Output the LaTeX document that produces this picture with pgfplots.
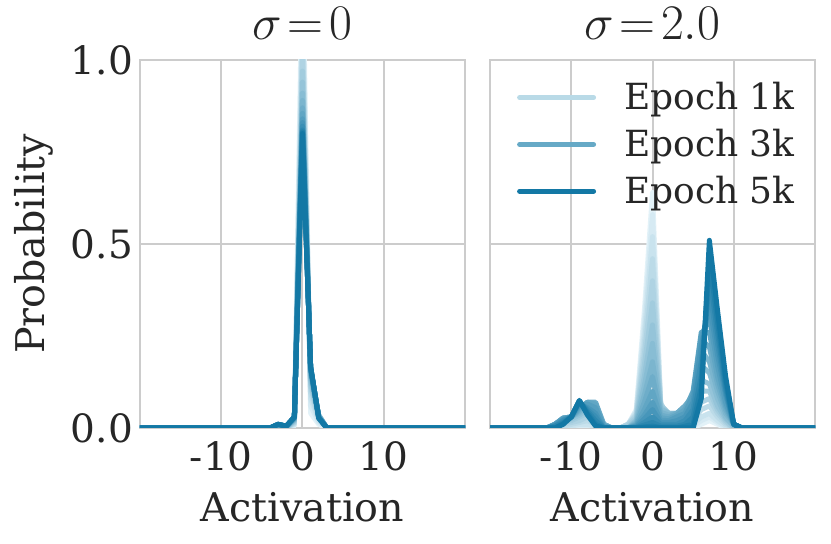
\documentclass[border=0pt]{standalone}
\usepackage{fontspec}
\setmainfont{DejaVu Serif}
\usepackage{pgfplots}
\usepackage{pgfplotstable}
\pgfplotsset{compat=1.18}
\definecolor{pale}{RGB}{227,242,248}
\definecolor{dark}{RGB}{19,120,165}
\definecolor{gridc}{RGB}{204,204,204}
\definecolor{txt}{RGB}{38,38,38}
\colorlet{c0}{pale}
\colorlet{c1}{dark!6.25!pale}
\colorlet{c2}{dark!12.5!pale}
\colorlet{c3}{dark!18.75!pale}
\colorlet{c4}{dark!25!pale}
\colorlet{c5}{dark!31.25!pale}
\colorlet{c6}{dark!37.5!pale}
\colorlet{c7}{dark!43.75!pale}
\colorlet{c8}{dark!50!pale}
\colorlet{c9}{dark!56.25!pale}
\colorlet{c10}{dark!62.5!pale}
\colorlet{c11}{dark!68.75!pale}
\colorlet{c12}{dark!75!pale}
\colorlet{c13}{dark!81.25!pale}
\colorlet{c14}{dark!87.5!pale}
\colorlet{c15}{dark!93.75!pale}
\colorlet{c16}{dark}
\newcommand{\fs}{\fontsize{18}{21.6}\selectfont}
\newcommand{\fk}{\fontsize{19.5}{23}\selectfont}
\newcommand{\fl}{\fontsize{19.8}{23.5}\selectfont}
\newcommand{\ft}{\fontsize{24.88}{28}\selectfont}

% sigma = 0 : columns l0 (earliest) ... l16 (latest)
\pgfplotstableread{
x   l0   l1    l2   l3    l4   l5    l6    l7    l8    l9    l10   l11   l12   l13   l14   l15   l16
-20 0    0     0    0     0    0     0     0     0     0     0     0     0     0     0     0     0
-4  0    0     0    0     0    0     0     0     0     0     0     0     0     0     0     0     0
-3  0    0     0    0.003 0.005 0.006 0.007 0.008 0.008 0.009 0.009 0.01 0.01  0.01  0.01  0.01  0.01
-2  0    0     0    0     0    0.001 0.002 0.002 0.003 0.003 0.004 0.004 0.004 0.005 0.005 0.005 0.005
-1  0.005 0.008 0.01 0.013 0.015 0.018 0.02 0.022 0.024 0.025 0.026 0.027 0.028 0.029 0.03 0.03 0.03
0   1.30 1.20  1.12 1.06  1.01 0.97  0.94  0.91  0.89  0.87  0.855 0.84  0.83  0.82  0.81  0.805 0.80
1   0.04 0.06  0.08 0.095 0.11 0.12  0.13  0.14  0.148 0.154 0.158 0.161 0.163 0.164 0.165 0.166 0.166
2   0.01 0.015 0.02 0.025 0.03 0.033 0.035 0.035 0.033 0.032 0.031 0.03  0.029 0.028 0.028 0.027 0.027
3   0    0     0    0     0    0     0     0     0     0     0     0     0     0     0     0     0
20  0    0     0    0     0    0     0     0     0     0     0     0     0     0     0     0     0
}\tabL

% sigma = 2.0 : columns r0 (earliest) ... r16 (latest)
\pgfplotstableread{
x   r0   r1    r2    r3    r4    r5    r6    r7    r8    r9    r10   r11   r12   r13   r14   r15   r16
-20 0    0     0     0     0     0     0     0     0     0     0     0     0     0     0     0     0
-13 0    0     0     0     0     0     0     0     0     0     0     0     0     0     0     0     0
-12 0    0     0     0     0.005 0.005 0.01  0.01  0.01  0.01  0.01  0.01  0.008 0.005 0.005 0     0
-11 0    0     0     0.005 0.01  0.015 0.02  0.025 0.027 0.027 0.027 0.025 0.022 0.02  0.015 0.012 0.01
-10 0    0     0.005 0.01  0.015 0.02  0.025 0.03  0.03  0.03  0.03  0.03  0.03  0.03  0.03  0.03  0.03
-9  0    0.005 0.01  0.015 0.02  0.03  0.035 0.04  0.045 0.05  0.055 0.06  0.065 0.07  0.072 0.074 0.075
-8  0    0.005 0.01  0.02  0.03  0.04  0.05  0.06  0.065 0.07  0.07  0.065 0.055 0.05  0.045 0.04  0.035
-7  0    0     0.005 0.01  0.02  0.03  0.045 0.055 0.065 0.07  0.065 0.055 0.04  0.03  0.02  0.01  0.005
-6  0    0     0     0     0     0.005 0.005 0.01  0.01  0.01  0.005 0.005 0     0     0     0     0
-5  0    0     0     0     0     0     0     0     0     0     0     0     0     0     0     0     0
-4  0    0     0     0     0     0     0     0     0     0     0     0     0     0     0     0     0
-3  0.01 0.01  0.01  0.01  0.01  0.005 0     0     0     0     0     0     0     0     0     0     0
-2  0.05 0.046 0.042 0.037 0.032 0.027 0.022 0.018 0.014 0.011 0.008 0.006 0.004 0.002 0.001 0     0
-1  0.32 0.29  0.26  0.23  0.20  0.17  0.14  0.115 0.09  0.07  0.05  0.035 0.025 0.015 0.008 0.003 0
0   0.64 0.58  0.52  0.46  0.40  0.34  0.28  0.23  0.18  0.14  0.10  0.07  0.05  0.03  0.015 0.005 0
1   0.07 0.068 0.066 0.067 0.065 0.062 0.056 0.051 0.043 0.035 0.028 0.021 0.015 0.01  0.005 0.001 0
2   0.01 0.015 0.02  0.03  0.035 0.04  0.04  0.04  0.035 0.03  0.025 0.02  0.015 0.01  0.005 0     0
3   0    0.005 0.01  0.02  0.03  0.035 0.04  0.04  0.04  0.04  0.035 0.03  0.02  0.01  0.005 0     0
4   0    0.005 0.01  0.02  0.03  0.04  0.05  0.05  0.06  0.06  0.05  0.04  0.03  0.02  0.01  0.005 0
5   0    0.005 0.01  0.02  0.03  0.04  0.05  0.07  0.08  0.09  0.10  0.09  0.07  0.05  0.03  0.01  0
6   0.01 0.02  0.03  0.05  0.07  0.10  0.13  0.17  0.21  0.24  0.26  0.25  0.22  0.18  0.14  0.11  0.08
7   0.02 0.03  0.04  0.06  0.08  0.10  0.12  0.15  0.18  0.22  0.26  0.30  0.34  0.38  0.42  0.46  0.51
8   0.01 0.015 0.02  0.03  0.04  0.05  0.06  0.08  0.10  0.12  0.14  0.17  0.20  0.23  0.26  0.29  0.32
9   0    0     0.005 0.01  0.015 0.02  0.025 0.03  0.04  0.05  0.06  0.07  0.09  0.10  0.11  0.125 0.14
10  0    0     0     0     0     0     0.005 0.005 0.01  0.01  0.01  0.01  0.01  0.01  0.01  0.01  0.01
11  0    0     0     0     0     0     0     0     0     0     0     0     0     0     0     0     0
20  0    0     0     0     0     0     0     0     0     0     0     0     0     0     0     0     0
}\tabR

\begin{document}
\begin{tikzpicture}
\pgfplotsset{
  panel/.style={
    width=162.5pt, height=184pt, scale only axis,
    xmin=-20, xmax=20, ymin=0, ymax=1,
    xtick={-10,0,10}, xticklabels={-10,0,10},
    ytick={0,0.5,1},
    grid=major, grid style={gridc, line width=1pt},
    axis line style={gridc, line width=1pt},
    major tick length=0pt,
    tick label style={font=\fk, text=txt},
    xticklabel style={yshift=-3pt},
    xlabel={Activation},
    xlabel style={font=\fl, text=txt, at={(axis description cs:0.5,0)}, anchor=center, yshift=-39.5pt},
    title style={font=\ft, text=txt, at={(axis description cs:0.5,1)}, anchor=base, yshift=4pt},
    /pgf/number format/assume math mode=true,
    every axis plot/.append style={line width=2.5pt, line join=round, line cap=round},
  }
}
% ---------------- left panel ----------------
\begin{axis}[panel, name=L, title={$\sigma\mkern2mu{=}\mkern2mu0$}, ylabel={Probability},
  ylabel style={font=\fl, text=txt, at={(axis description cs:-0.326,0.5)}, anchor=center},
  yticklabels={0.0,0.5,1.0}]
\pgfplotsinvokeforeach{0,...,16}{
  \addplot[forget plot, color=c#1] table[x=x, y=l#1] {\tabL};
}
\end{axis}
% ---------------- right panel ----------------
\begin{axis}[panel, name=R, at={(175pt,0)}, title={$\sigma\mkern2mu{=}\mkern2mu2.0$}, yticklabels={},
  legend style={at={(axis description cs:1,1)}, anchor=north east, draw=none, fill=none,
    font=\fs, text=txt, inner sep=0pt, nodes={inner sep=0pt}, row sep=8.25pt,
    xshift=-10pt, yshift=-11pt},
  legend cell align=left,
  legend image code/.code={\draw[#1, line cap=round] (0pt,0pt) -- (37pt,0pt); \path (51pt,0pt);}]
\pgfplotsinvokeforeach{0,...,16}{
  \addplot[forget plot, color=c#1] table[x=x, y=r#1] {\tabR};
}
\addlegendimage{color=dark!20!pale, line width=2.5pt}
\addlegendentry{Epoch 1k}
\addlegendimage{color=dark!60!pale, line width=2.5pt}
\addlegendentry{Epoch 3k}
\addlegendimage{color=dark, line width=2.5pt}
\addlegendentry{Epoch 5k}
\end{axis}
\path ([shift={(-70pt,-58pt)}]L.south west) rectangle ([shift={(8pt,30pt)}]R.north east);
\end{tikzpicture}
\end{document}
